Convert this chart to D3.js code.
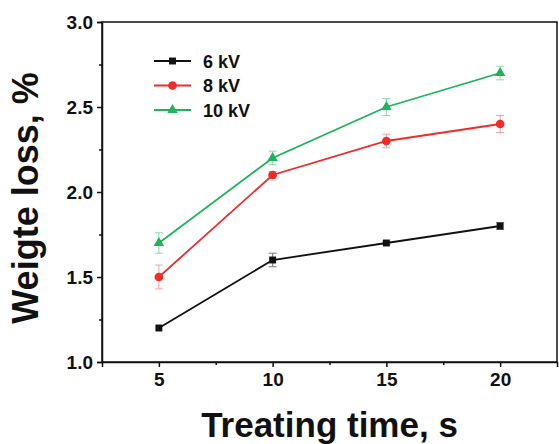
<!DOCTYPE html>
<html>
<head>
<meta charset="utf-8">
<script src="https://cdn.jsdelivr.net/npm/d3@7"></script>
<style>
  body { margin: 0; background: #fff; }
  text { font-family: "Liberation Sans", Arial, sans-serif; font-weight: bold; }
</style>
</head>
<body>
<svg id="chart" width="559" height="444"></svg>
<script>
const times = [5, 10, 15, 20];
const seriesNames = ['6 kV', '8 kV', '10 kV'];
const loss6 = [1.2, 1.6, 1.7, 1.8];
const err6 = [0.0, 0.04, 0.01, 0.02];
const loss8 = [1.5, 2.1, 2.3, 2.4];
const err8 = [0.07, 0.02, 0.04, 0.05];
const loss10 = [1.7, 2.2, 2.5, 2.7];
const err10 = [0.06, 0.04, 0.05, 0.04];
const xTicks = [5, 10, 15, 20];
const yTicks = [1.0, 1.5, 2.0, 2.5, 3.0];

const series = [
    { name: seriesNames[0], values: loss6, errors: err6, color: '#111', errColor: '#777', shape: d3.symbolSquare, size: 48 },
    { name: seriesNames[1], values: loss8, errors: err8, color: '#f22a2a', errColor: '#f7a0a0', shape: d3.symbolCircle, size: 60 },
    { name: seriesNames[2], values: loss10, errors: err10, color: '#1db45a', errColor: '#8fd8aa', shape: d3.symbolTriangle, size: 48 }
];

const margin = { top: 22, right: 2, bottom: 82, left: 102 };
const width = 559 - margin.left - margin.right;
const height = 444 - margin.top - margin.bottom;

const svg = d3.select('#chart');
const g = svg.append('g').attr('transform', `translate(${margin.left},${margin.top})`);

const x = d3.scaleLinear().domain([2.5, 22.5]).range([0, width]);
const y = d3.scaleLinear().domain([1.0, 3.0]).range([height, 0]);

// frame
g.append('rect')
    .attr('width', width).attr('height', height)
    .attr('fill', 'none').attr('stroke', '#111').attr('stroke-width', 1.5);

// x axis
g.append('g').attr('transform', `translate(0,${height})`)
    .call(d3.axisBottom(x).tickValues(xTicks).tickSize(5).tickPadding(6).tickFormat(d3.format('d')));
g.append('g').attr('transform', `translate(0,${height})`)
    .call(d3.axisBottom(x).tickValues([7.5, 12.5, 17.5]).tickSize(3).tickFormat(''))
    .select('.domain').remove();

// y axis
g.append('g')
    .call(d3.axisLeft(y).tickValues(yTicks).tickSize(5).tickPadding(4).tickFormat(d3.format('.1f')));
g.append('g')
    .call(d3.axisLeft(y).tickValues([1.25, 1.75, 2.25, 2.75]).tickSize(3).tickFormat(''))
    .select('.domain').remove();

g.selectAll('.domain').attr('stroke', '#111').attr('stroke-width', 1.5);
g.selectAll('.tick line').attr('stroke', '#111').attr('stroke-width', 1.5);
g.selectAll('.tick text').attr('font-size', 19).attr('font-weight', 'bold').attr('fill', '#111')
    .style('font-family', '"Liberation Sans", Arial, sans-serif');

// error bars, lines, markers
const line = d3.line().x((d, i) => x(times[i])).y(d => y(d));
series.forEach(s => {
    const eb = g.append('g');
    s.values.forEach((v, i) => {
        const e = s.errors[i];
        if (e <= 0) return;
        const cx = x(times[i]);
        eb.append('line').attr('x1', cx).attr('x2', cx).attr('y1', y(v - e)).attr('y2', y(v + e))
            .attr('stroke', s.errColor).attr('stroke-width', 1);
        [v - e, v + e].forEach(w => {
            eb.append('line').attr('x1', cx - 4).attr('x2', cx + 4).attr('y1', y(w)).attr('y2', y(w))
                .attr('stroke', s.errColor).attr('stroke-width', 1);
        });
    });
    g.append('path').datum(s.values)
        .attr('d', line).attr('fill', 'none').attr('stroke', s.color).attr('stroke-width', 1.8);
    g.selectAll(null).data(s.values).enter().append('path')
        .attr('transform', (d, i) => `translate(${x(times[i])},${y(d)})`)
        .attr('d', d3.symbol().type(s.shape).size(s.size))
        .attr('fill', s.color);
});

// legend
const legend = g.append('g').attr('transform', 'translate(52,39)');
series.forEach((s, i) => {
    const row = legend.append('g').attr('transform', `translate(0,${i * 24.5})`);
    row.append('line').attr('x1', 0).attr('x2', 37).attr('stroke', s.color).attr('stroke-width', 1.8);
    row.append('path').attr('transform', 'translate(18.5,0)')
        .attr('d', d3.symbol().type(s.shape).size(s.size)).attr('fill', s.color);
    row.append('text').attr('x', 49).attr('y', 6.5).attr('font-size', 18).attr('fill', '#111').text(s.name);
});

// axis titles
svg.append('text')
    .attr('x', margin.left + width / 2).attr('y', 437)
    .attr('text-anchor', 'middle').attr('font-size', 35).attr('fill', '#111')
    .text('Treating time, s');

svg.append('text')
    .attr('transform', 'translate(38,198) rotate(-90)')
    .attr('text-anchor', 'middle').attr('font-size', 36).attr('fill', '#111')
    .text('Weigte loss, %');
</script>
</body>
</html>
